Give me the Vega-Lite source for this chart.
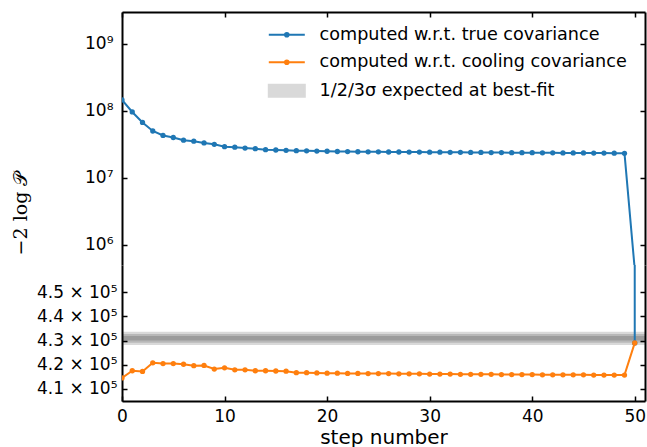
{
  "$schema": "https://vega.github.io/schema/vega-lite/v6.json",
  "padding": {"left": 11, "top": 11, "right": 1, "bottom": 0},
  "spacing": 0,
  "bounds": "flush",
  "datasets": {
    "truecov": [
      {"s": 0, "v": 145000000}, {"s": 1, "v": 95700000}, {"s": 2, "v": 66700000}, {"s": 3, "v": 49800000},
      {"s": 4, "v": 42700000}, {"s": 5, "v": 39800000}, {"s": 6, "v": 36300000}, {"s": 7, "v": 35100000},
      {"s": 8, "v": 33000000}, {"s": 9, "v": 31500000}, {"s": 10, "v": 29000000}, {"s": 11, "v": 28500000},
      {"s": 12, "v": 27700000}, {"s": 13, "v": 27100000}, {"s": 14, "v": 26200000}, {"s": 15, "v": 25900000},
      {"s": 16, "v": 25600000}, {"s": 17, "v": 25300000}, {"s": 18, "v": 25200000}, {"s": 19, "v": 25000000},
      {"s": 20, "v": 24800000}, {"s": 21, "v": 24600000}, {"s": 22, "v": 24500000}, {"s": 23, "v": 24400000},
      {"s": 24, "v": 24300000}, {"s": 25, "v": 24300000}, {"s": 26, "v": 24200000}, {"s": 27, "v": 24200000},
      {"s": 28, "v": 24100000}, {"s": 29, "v": 24100000}, {"s": 30, "v": 24000000}, {"s": 31, "v": 24000000},
      {"s": 32, "v": 23900000}, {"s": 33, "v": 23900000}, {"s": 34, "v": 23800000}, {"s": 35, "v": 23800000},
      {"s": 36, "v": 23700000}, {"s": 37, "v": 23700000}, {"s": 38, "v": 23600000}, {"s": 39, "v": 23600000},
      {"s": 40, "v": 23600000}, {"s": 41, "v": 23500000}, {"s": 42, "v": 23500000}, {"s": 43, "v": 23400000},
      {"s": 44, "v": 23400000}, {"s": 45, "v": 23400000}, {"s": 46, "v": 23300000}, {"s": 47, "v": 23300000},
      {"s": 48, "v": 23200000}, {"s": 49, "v": 23100000}, {"s": 50, "v": 429000}
    ],
    "coolcov": [
      {"s": 0, "v": 414400}, {"s": 1, "v": 417400}, {"s": 2, "v": 417100}, {"s": 3, "v": 420700},
      {"s": 4, "v": 420400}, {"s": 5, "v": 420400}, {"s": 6, "v": 420100}, {"s": 7, "v": 419500},
      {"s": 8, "v": 419600}, {"s": 9, "v": 418100}, {"s": 10, "v": 418600}, {"s": 11, "v": 417800},
      {"s": 12, "v": 417800}, {"s": 13, "v": 417400}, {"s": 14, "v": 417400}, {"s": 15, "v": 417300},
      {"s": 16, "v": 417200}, {"s": 17, "v": 416600}, {"s": 18, "v": 416600}, {"s": 19, "v": 416500},
      {"s": 20, "v": 416400}, {"s": 21, "v": 416400}, {"s": 22, "v": 416300}, {"s": 23, "v": 416300},
      {"s": 24, "v": 416200}, {"s": 25, "v": 416200}, {"s": 26, "v": 416200}, {"s": 27, "v": 416100},
      {"s": 28, "v": 416100}, {"s": 29, "v": 416100}, {"s": 30, "v": 416000}, {"s": 31, "v": 416000},
      {"s": 32, "v": 416000}, {"s": 33, "v": 415900}, {"s": 34, "v": 415900}, {"s": 35, "v": 415900},
      {"s": 36, "v": 415900}, {"s": 37, "v": 415800}, {"s": 38, "v": 415800}, {"s": 39, "v": 415800},
      {"s": 40, "v": 415800}, {"s": 41, "v": 415700}, {"s": 42, "v": 415700}, {"s": 43, "v": 415700},
      {"s": 44, "v": 415700}, {"s": 45, "v": 415700}, {"s": 46, "v": 415600}, {"s": 47, "v": 415600},
      {"s": 48, "v": 415600}, {"s": 49, "v": 415600}, {"s": 50, "v": 429000}
    ],
    "bands": [
      {"k": 3, "lo": 428116, "hi": 433684},
      {"k": 2, "lo": 429044, "hi": 432756},
      {"k": 1, "lo": 429972, "hi": 431828}
    ]
  },
  "vconcat": [
    {
      "width": 523,
      "height": 253,
      "resolve": {"axis": {"x": "independent", "y": "independent"}},
      "layer": [
        {
          "data": {"name": "truecov"},
          "mark": {"type": "line", "clip": true, "strokeWidth": 2},
          "encoding": {
            "x": {"field": "s", "type": "quantitative", "scale": {"domain": [0, 51], "nice": false, "zero": false},
              "axis": {"orient": "top", "values": [0, 10, 20, 30, 40, 50], "labels": false, "title": null}},
            "y": {"field": "v", "type": "quantitative",
              "scale": {"type": "log", "domain": [497700, 2972000000], "nice": false},
              "axis": {"orient": "left", "values": [1000000, 10000000, 100000000, 1000000000],
                "labelExpr": "'10' + ['⁰','¹','²','³','⁴','⁵','⁶','⁷','⁸','⁹'][round(log(datum.value)/LN10)]",
                "labelPadding": 14,
                "title": "−2 log 𝒫", "titleFont": "DejaVu Serif", "titleFontSize": 19, "titleFontWeight": "normal",
                "titleX": -102, "titleY": 201, "titleAngle": -90, "titleBaseline": "middle", "titleAlign": "center"}},
            "color": {"datum": "computed w.r.t. true covariance", "type": "nominal",
              "scale": {"domain": ["computed w.r.t. true covariance", "computed w.r.t. cooling covariance", "1/2/3σ expected at best-fit"],
                "range": ["#1f77b4", "#ff7f0e", "#d9d9d9"]},
              "legend": {"orient": "none", "legendX": 156, "legendY": 14, "title": null,
                "labelFont": "DejaVu Sans", "labelFontSize": 17.6, "labelColor": "black", "labelLimit": 0,
                "symbolSize": 144, "labelOffset": 24, "rowPadding": 8.5,
                "encode": {"symbols": {"update": {
                  "shape": {"signal": "datum.value === '1/2/3σ expected at best-fit' ? 'M-3,-1H3V1H-3Z' : 'M-3,0H3M-0.3,0A0.3,0.3 0 1,1 0.3,0A0.3,0.3 0 1,1 -0.3,0Z'"},
                  "fill": {"signal": "datum.value === '1/2/3σ expected at best-fit' ? '#d9d9d9' : datum.value === 'computed w.r.t. true covariance' ? '#1f77b4' : '#ff7f0e'"},
                  "stroke": {"signal": "datum.value === '1/2/3σ expected at best-fit' ? 'transparent' : datum.value === 'computed w.r.t. true covariance' ? '#1f77b4' : '#ff7f0e'"},
                  "strokeWidth": {"value": 2},
                  "opacity": {"value": 1},
                  "fillOpacity": {"value": 1},
                  "strokeOpacity": {"value": 1}
                }}}}}
          }
        },
        {
          "data": {"name": "truecov"},
          "mark": {"type": "point", "filled": true, "size": 28, "opacity": 1, "clip": true},
          "encoding": {
            "x": {"field": "s", "type": "quantitative", "axis": null},
            "y": {"field": "v", "type": "quantitative",
              "axis": {"orient": "right", "values": [1000000, 10000000, 100000000, 1000000000], "labels": false, "title": null}},
            "color": {"datum": "computed w.r.t. true covariance", "type": "nominal"}
          }
        }
      ]
    },
    {
      "width": 523,
      "height": 136,
      "resolve": {"axis": {"x": "independent", "y": "independent"}},
      "layer": [
        {
          "data": {"name": "bands"},
          "mark": {"type": "rect", "color": "black", "opacity": 0.15},
          "encoding": {
            "y": {"field": "lo", "type": "quantitative", "scale": {"domain": [404792, 461458], "nice": false, "zero": false}, "axis": null},
            "y2": {"field": "hi"}
          }
        },
        {
          "data": {"name": "truecov"},
          "mark": {"type": "line", "clip": true, "strokeWidth": 2},
          "encoding": {
            "x": {"field": "s", "type": "quantitative", "scale": {"domain": [0, 51], "nice": false, "zero": false},
              "axis": {"orient": "bottom", "values": [0, 10, 20, 30, 40, 50], "title": "step number",
                "titleFontSize": 20, "titleFontWeight": "normal", "titleBaseline": "alphabetic", "titleY": 42,
                "labelPadding": 12, "labelFlush": false}},
            "y": {"field": "v", "type": "quantitative",
              "axis": {"orient": "left", "values": [410000, 420000, 430000, 440000, 450000],
                "labelExpr": "format(datum.value/100000, '.1f') + ' × 10⁵'", "labelPadding": 10, "title": null}},
            "color": {"datum": "computed w.r.t. true covariance", "type": "nominal"}
          }
        },
        {
          "data": {"name": "truecov"},
          "mark": {"type": "point", "filled": true, "size": 28, "opacity": 1, "clip": true},
          "encoding": {
            "x": {"field": "s", "type": "quantitative", "axis": null},
            "y": {"field": "v", "type": "quantitative",
              "axis": {"orient": "right", "values": [410000, 420000, 430000, 440000, 450000], "labels": false, "title": null}},
            "color": {"datum": "computed w.r.t. true covariance", "type": "nominal"}
          }
        },
        {
          "data": {"name": "coolcov"},
          "mark": {"type": "line", "clip": true, "strokeWidth": 2},
          "encoding": {
            "x": {"field": "s", "type": "quantitative", "axis": null},
            "y": {"field": "v", "type": "quantitative", "axis": null},
            "color": {"datum": "computed w.r.t. cooling covariance", "type": "nominal"}
          }
        },
        {
          "data": {"name": "coolcov"},
          "mark": {"type": "point", "filled": true, "size": 28, "opacity": 1, "clip": true},
          "encoding": {
            "x": {"field": "s", "type": "quantitative", "axis": null},
            "y": {"field": "v", "type": "quantitative", "axis": null},
            "color": {"datum": "computed w.r.t. cooling covariance", "type": "nominal"}
          }
        }
      ]
    }
  ],
  "config": {
    "view": {"stroke": null},
    "font": "DejaVu Sans",
    "axis": {
      "grid": false,
      "domainColor": "black", "domainWidth": 2,
      "tickColor": "black", "tickWidth": 1.5, "tickSize": -5,
      "labelColor": "black", "labelFont": "DejaVu Sans", "labelFontSize": 17,
      "titleColor": "black", "titleFont": "DejaVu Sans"
    }
  }
}
